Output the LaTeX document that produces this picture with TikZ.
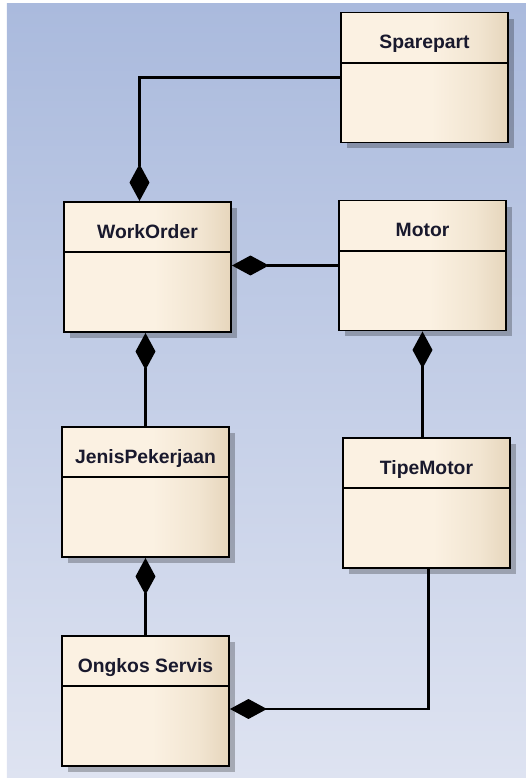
\documentclass[tikz,border=0pt]{standalone}
\usepackage{fontspec}
\setmainfont{Liberation Sans}
\usetikzlibrary{calc,arrows.meta,shadows}
\definecolor{bgtop}{RGB}{170,186,221}
\definecolor{bgbottom}{RGB}{222,227,241}
\definecolor{creamL}{RGB}{251,241,226}
\definecolor{creamR}{RGB}{230,214,188}
\definecolor{classtext}{RGB}{25,25,45}
\pgfdeclarehorizontalshading{classshade}{100bp}
{color(0bp)=(creamL); color(25bp)=(creamL); color(52bp)=(creamL);
 color(66bp)=(creamL!55!creamR); color(75bp)=(creamR); color(100bp)=(creamR)}
\newcommand{\divider}[1]
{   \draw[line width=1.1pt] ($(#1.north west)+(0,-51)$) -- ($(#1.north east)+(0,-51)$);
}

\begin{document}
\begin{tikzpicture}[x=0.02cm,y=0.02cm,
  umlclass/.style={rectangle, draw, line width=1.1pt, minimum width=3.34cm,
    minimum height=2.6cm, inner sep=0pt, text height=0.72cm, text depth=1.88cm,
    shading=classshade, text=classtext, font=\bfseries\fontsize{11}{13}\selectfont,
    drop shadow={shadow xshift=0.12cm, shadow yshift=-0.12cm, fill=black, opacity=0.25}},
  comp/.style={line width=1.2pt, -{Diamond[length=0.74cm,width=0.4cm]}}]

 \useasboundingbox (0,0) rectangle (526,779);
 \shade[top color=bgtop, bottom color=bgbottom] (7,1) rectangle (526,775);

 \node[umlclass] (sp) at (424.5,701.5) {Sparepart};
 \node[umlclass] (wo) at (147.5,512) {WorkOrder};
 \node[umlclass] (mo) at (422.5,513.5) {Motor};
 \node[umlclass] (jp) at (145.5,287) {JenisPekerjaan};
 \node[umlclass] (tm) at (426.5,276) {TipeMotor};
 \node[umlclass] (os) at (145.5,78) {Ongkos Servis};
 \foreach \n in {sp,wo,mo,jp,tm,os} {\divider{\n}}

   \draw[comp] (sp.west) -| ($(wo.north)+(-8,0)$);
   \draw[comp] (mo.west) -- (mo.west -| wo.east);
   \draw[comp] (jp.north) -- (jp.north |- wo.south);
   \draw[comp] (mo.south |- tm.north) -- (mo.south);
   \draw[comp] (os.north) -- (jp.south);
   \draw[comp] ($(tm.south)+(2,0)$) |- ($(os.east)+(0,-8)$);

\end{tikzpicture}
\end{document}
